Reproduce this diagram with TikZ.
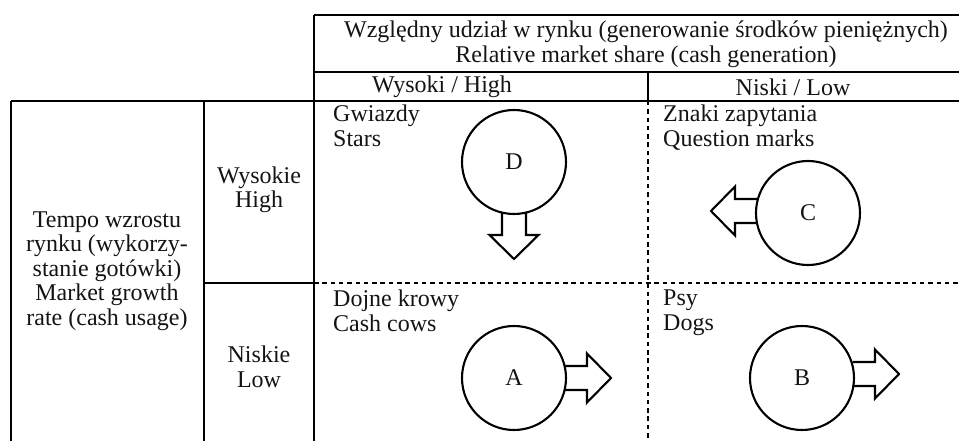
\documentclass[tikz,border=0pt]{standalone}
\usepackage{fontspec}
\setmainfont{Liberation Serif}
\usetikzlibrary{calc}
\begin{document}
\begin{tikzpicture}[x=1pt,y=-1pt,
  grid/.style={line width=2.4pt, black},
  dgrid/.style={line width=2.4pt, dash pattern=on 4.5pt off 3.8pt, black},
  lbl/.style={font=\fontsize{24}{24.5}\selectfont, inner sep=0pt, text=black!92},
  cell/.style={lbl, align=left, anchor=north west},
  ball/.style={circle, draw=black, line width=2.1pt, minimum size=104pt, inner sep=0pt, font=\fontsize{24}{24.5}\selectfont, text=black!92},
  blk/.style={draw=black, line width=2.1pt, line join=miter},
  blockarrow/.pic={\draw[blk] (50.6,-12) -- (73,-12) -- (73,-24.5) -- (97,0) -- (73,24.5) -- (73,12) -- (50.6,12);}]
\useasboundingbox (0,0) rectangle (959,441);
% table rules
\draw[grid] (314,15) -- (959,15);
\draw[grid] (314,72) -- (959,72);
\draw[grid] (11,101) -- (959,101);
\draw[grid] (314,15) -- (314,441);
\draw[grid] (648,72) -- (648,101);
\draw[dgrid] (648,101) -- (648,441);
\draw[grid] (11,101) -- (11,441);
\draw[grid] (204,101) -- (204,441);
\draw[grid] (204,283) -- (314,283);
\draw[dgrid] (314,283) -- (959,283);
% header texts
\node[lbl, align=center] (hdr) at (646,44) {Względny udział w rynku (generowanie środków pieniężnych)\\Relative market share (cash generation)};
\node[lbl] (colH) at (442,87) {Wysoki / High};
\node[lbl] (colL) at (793,87) {Niski / Low};
\node[lbl, align=center] (rowT) at (107,271) {Tempo wzrostu\\rynku (wykorzy-\\stanie gotówki)\\Market growth\\rate (cash usage)};
\node[lbl, align=center] (rowH) at (259,190) {Wysokie\\High};
\node[lbl, align=center] (rowL) at (259,367) {Niskie\\Low};
% cell titles
\node[cell] (stars) at (333,105) {Gwiazdy\\Stars};
\node[cell] (qm) at (663,105) {Znaki zapytania\\Question marks};
\node[cell] (cows) at (333,290) {Dojne krowy\\Cash cows};
\node[cell] (dogs) at (663,290) {Psy\\Dogs};
% circles
\node[ball] (D) at (514,162) {D};
\node[ball] (C) at (808,213) {C};
\node[ball] (A) at (514,378) {A};
\node[ball] (B) at (802,378) {B};
% block arrows
\pic[rotate=-90] at (D.center) {blockarrow};
\pic[rotate=180, yshift=-2pt] at (C.center) {blockarrow};
\pic at (A.center) {blockarrow};
\pic[yshift=4pt] at (B.center) {blockarrow};
\end{tikzpicture}
\end{document}
